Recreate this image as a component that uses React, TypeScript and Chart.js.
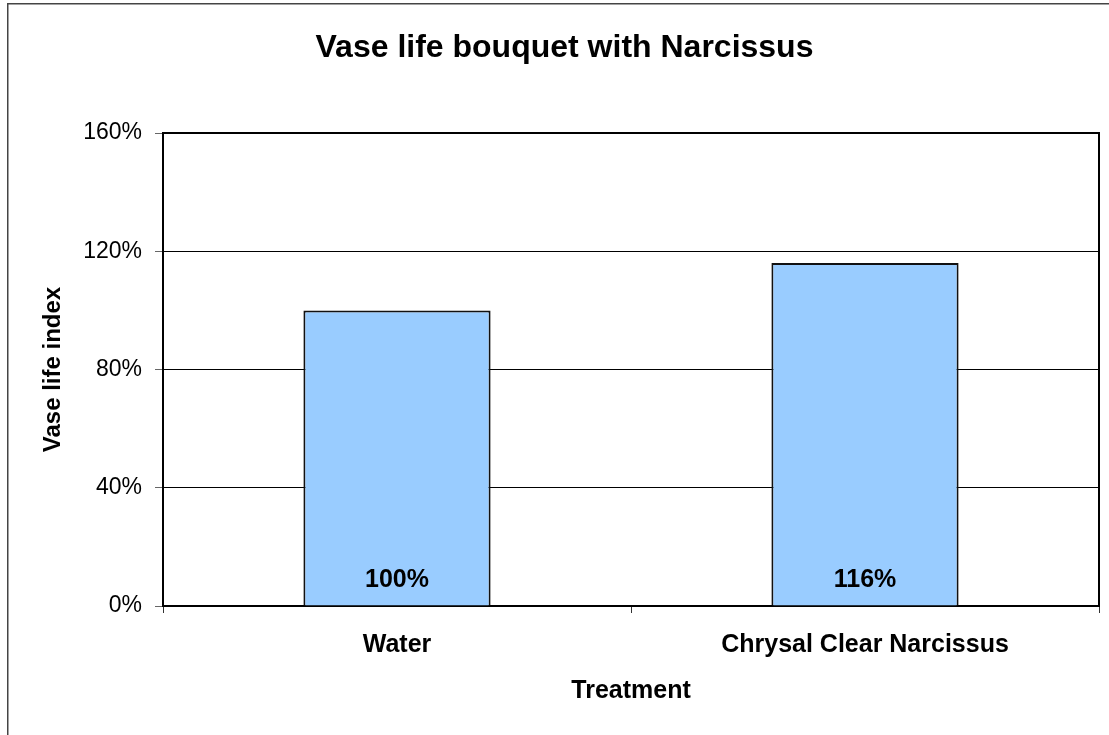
import React, { useEffect, useRef } from "react";
import { Chart, registerables } from "chart.js";

Chart.register(...registerables);

const categories = ["Water", "Chrysal Clear Narcissus"];
const vaseLifeIndex = [100, 116];
const yTicks = [0, 40, 80, 120, 160];
const chartTitle = "Vase life bouquet with Narcissus";
const yTitle = "Vase life index";
const xTitle = "Treatment";

const FONT = "'Liberation Sans', Arial, sans-serif";

const frameAndLabels = {
  id: "frameAndLabels",
  beforeDraw(chart: any) {
    const ctx = chart.ctx;
    ctx.save();
    ctx.strokeStyle = "#444";
    ctx.lineWidth = 1.5;
    ctx.beginPath();
    ctx.moveTo(7.75, 735);
    ctx.lineTo(7.75, 3.75);
    ctx.lineTo(chart.width, 3.75);
    ctx.stroke();
    ctx.restore();
  },
  beforeDatasetsDraw(chart: any) {
    const { ctx, chartArea } = chart;
    ctx.save();
    ctx.strokeStyle = "#000";
    ctx.lineWidth = 2;
    ctx.strokeRect(chartArea.left, chartArea.top, chartArea.right - chartArea.left, chartArea.bottom - chartArea.top);
    ctx.restore();
  },
  afterDatasetsDraw(chart: any) {
    const { ctx, chartArea } = chart;
    const meta = chart.getDatasetMeta(0);
    ctx.save();
    ctx.fillStyle = "#000";
    ctx.font = `bold 25px ${FONT}`;
    ctx.textAlign = "center";
    ctx.textBaseline = "middle";
    meta.data.forEach((bar: any, i: number) => {
      ctx.fillText(`${vaseLifeIndex[i]}%`, bar.x, chartArea.bottom - 26);
    });
    ctx.restore();
  },
};

export default function App() {
  const ref = useRef<HTMLCanvasElement>(null);
  useEffect(() => {
    if (!ref.current) return;
    const chart = new Chart(ref.current, {
      type: "bar",
      data: {
        labels: categories,
        datasets: [
          {
            data: vaseLifeIndex,
            backgroundColor: "#99CCFF",
            borderColor: "#111",
            borderWidth: 2,
            barPercentage: 0.4,
            categoryPercentage: 1,
          },
        ],
      },
      options: {
        animation: false,
        responsive: false,
        maintainAspectRatio: false,
        layout: { padding: { left: 30, right: 10, top: 0, bottom: 0 } },
        plugins: {
          legend: { display: false },
          tooltip: { enabled: false },
          title: {
            display: true,
            text: chartTitle,
            color: "#000",
            font: { family: FONT, size: 32, weight: "bold", lineHeight: 1.2 },
            padding: { top: 29.3, bottom: 65.3 },
          },
        },
        scales: {
          x: {
            grid: { display: true, drawOnChartArea: false, offset: true, tickLength: 7, tickColor: "#333", color: "#333" },
            border: { display: false },
            ticks: { color: "#000", padding: 17, font: { family: FONT, size: 25, weight: "bold" } },
            title: {
              display: true,
              text: xTitle,
              color: "#000",
              font: { family: FONT, size: 25, weight: "bold", lineHeight: 1.2 },
              padding: { top: 0, bottom: 29 },
            },
            afterFit(scale: any) {
              scale.height = 129;
            },
          },
          y: {
            min: 0,
            max: 160,
            afterBuildTicks(scale: any) {
              scale.ticks = yTicks.map((v) => ({ value: v }));
            },
            grid: { color: "#000", lineWidth: 1, tickLength: 8, tickColor: "#666" },
            border: { display: false },
            ticks: {
              color: "#000",
              padding: 13,
              font: { family: FONT, size: 23 },
              callback: (v: any) => `${v}%`,
            },
            title: {
              display: true,
              text: yTitle,
              color: "#000",
              font: { family: FONT, size: 24, weight: "bold", lineHeight: 1.2 },
              padding: { top: 8.6, bottom: 0 },
            },
            afterFit(scale: any) {
              scale.width = 133;
            },
          },
        },
      } as any,
      plugins: [frameAndLabels],
    });
    return () => chart.destroy();
  }, []);
  return (
    <div style={{ position: "absolute", left: 0, top: 0, width: 1109, height: 735, overflow: "hidden", background: "#fff" }}>
      <canvas ref={ref} width={1109} height={735} style={{ width: 1109, height: 735, display: "block" }} />
    </div>
  );
}
